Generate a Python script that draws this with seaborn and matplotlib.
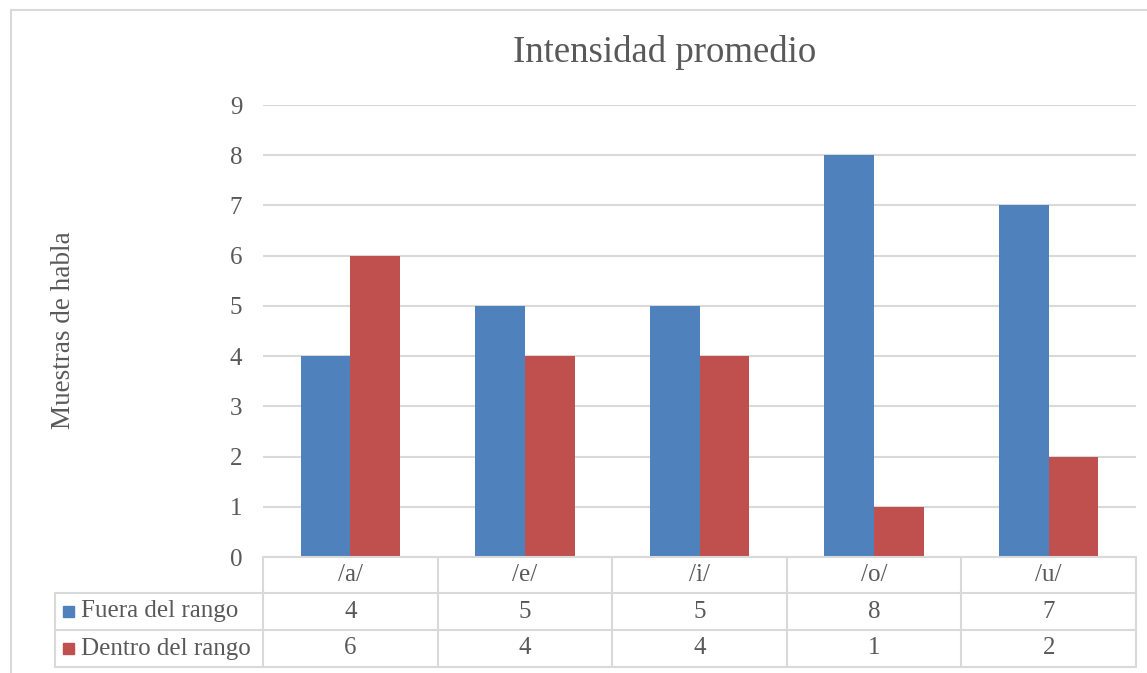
import matplotlib
matplotlib.use("Agg")
import matplotlib.pyplot as plt
import matplotlib.transforms as mtransforms
from matplotlib.lines import Line2D
from matplotlib.patches import Rectangle
import seaborn as sns
import pandas as pd

# data
vowels = ["/a/", "/e/", "/i/", "/o/", "/u/"]
series = ["Fuera del rango", "Dentro del rango"]
fuera = [4, 5, 5, 8, 7]
dentro = [6, 4, 4, 1, 2]
colors = ["#4F81BD", "#C0504D"]

W, H = 1147, 673
GRID = "#D9D9D9"
TXT = "#595959"
FS = 18

sns.set_theme(style="white")
plt.rcParams["font.family"] = ["Liberation Serif", "DejaVu Serif"]


def fx(px):
    return px / W


def fy(py):
    return 1 - py / H


df = pd.DataFrame({
    "vowel": vowels * 2,
    "serie": [series[0]] * len(vowels) + [series[1]] * len(vowels),
    "value": fuera + dentro,
})

fig = plt.figure(figsize=(W / 100, H / 100), dpi=100)
ax = fig.add_axes([fx(263), fy(557), fx(1136) - fx(263), fy(105) - fy(557)])

sns.barplot(data=df, x="vowel", y="value", hue="serie", order=vowels,
            hue_order=series, palette=colors, width=0.57, saturation=1,
            legend=False, ax=ax, zorder=3, linewidth=0)

ax.set_ylim(0, 9)
ax.set_xlim(-0.5, len(vowels) - 0.5)
ax.set_yticks(range(0, 10))
ax.yaxis.grid(True, color=GRID, linewidth=1.5, zorder=0)
ax.tick_params(axis="y", length=0, pad=15, labelsize=FS, labelcolor=TXT)
ax.set_xticks([])
ax.set_xlabel("")
ax.set_ylabel("")
for s in ax.spines.values():
    s.set_visible(False)

# title and axis label
fig.text(fx(665), fy(52), "Intensidad promedio", ha="center", va="center",
         fontsize=26.5, color=TXT)
fig.text(fx(63), fy(330), "Muestras de habla", ha="center", va="center",
         rotation=90, fontsize=19.5, color=TXT)

# data table under the plot
tr = mtransforms.blended_transform_factory(ax.transData, fig.transFigure)
row_y = [557, 593, 630, 667]
lw = 1.5
left = -0.5
right = len(vowels) - 0.5
x_right_fig = fx(1136)

fig.add_artist(Line2D([left, right], [fy(row_y[0])] * 2, transform=tr,
                      color=GRID, lw=lw))
for y in row_y[1:]:
    fig.add_artist(Line2D([fx(55), x_right_fig], [fy(y)] * 2,
                          transform=fig.transFigure, color=GRID, lw=lw))
for i in range(len(vowels) + 1):
    fig.add_artist(Line2D([i - 0.5, i - 0.5], [fy(row_y[0]), fy(row_y[-1])],
                          transform=tr, color=GRID, lw=lw))
fig.add_artist(Line2D([fx(55), fx(55)], [fy(row_y[1]), fy(row_y[-1])],
                      transform=fig.transFigure, color=GRID, lw=lw))

for i, v in enumerate(vowels):
    fig.text(i, fy((row_y[0] + row_y[1]) / 2), v, transform=tr,
             ha="center", va="center", fontsize=FS, color=TXT)
for r, vals in enumerate([fuera, dentro]):
    yc = fy((row_y[r + 1] + row_y[r + 2]) / 2)
    for i, val in enumerate(vals):
        fig.text(i, yc, str(val), transform=tr, ha="center", va="center",
                 fontsize=FS, color=TXT)
    fig.add_artist(Rectangle((fx(63), yc - 5 / H), 11 / W, 11 / H,
                             transform=fig.transFigure, color=colors[r]))
    fig.text(fx(81), yc, series[r], ha="left", va="center", fontsize=FS,
             color=TXT)

# chart border
fig.add_artist(Line2D([fx(11), fx(11)], [fy(10), 0], transform=fig.transFigure,
                      color=GRID, lw=1.5))
fig.add_artist(Line2D([fx(11), 1], [fy(10), fy(10)], transform=fig.transFigure,
                      color=GRID, lw=1.5))

fig.savefig("out.png", dpi=100)
